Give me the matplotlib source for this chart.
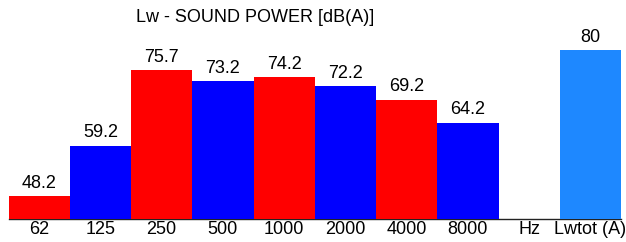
import matplotlib.pyplot as plt

# Bande d'ottava e livelli di potenza sonora
bands = ['62', '125', '250', '500', '1000', '2000', '4000', '8000']
band_values = [48.2, 59.2, 75.7, 73.2, 74.2, 72.2, 69.2, 64.2]
band_colors = ['#FF0000', '#0000FF'] * 4
total_label = 'Lwtot (A)'
total_value = 80
unit_label = 'Hz'

plt.rcParams['font.family'] = ['Liberation Sans', 'DejaVu Sans']

fig = plt.figure(figsize=(6.26, 2.42), dpi=100)
ax = fig.add_axes([8.5 / 626, 23.5 / 242, 612.5 / 626, 218.5 / 242])

labels = bands + [unit_label, total_label]
x = list(range(len(labels)))

ax.bar(x[:len(bands)], band_values, width=1.0, color=band_colors,
       zorder=2, linewidth=0)
ax.bar(x[-1], total_value, width=1.0, color='#1E88FF', zorder=2, linewidth=0)

for xi, v in zip(x[:len(bands)], band_values):
    ax.text(xi, v + 0.9, f'{v:g}', ha='center', va='bottom', fontsize=13)
ax.text(x[-1], total_value + 0.9, f'{total_value:g}', ha='center', va='bottom', fontsize=13)

ax.set_xlim(-0.5, len(labels) - 0.5)
ax.set_ylim(43.3, 90.9)
ax.set_xticks(x)
ax.set_xticklabels(labels, fontsize=13)
ax.tick_params(axis='x', length=0, pad=2)
ax.set_yticks([])
for s in ['top', 'right', 'left']:
    ax.spines[s].set_visible(False)
ax.spines['bottom'].set_color('#222222')
ax.spines['bottom'].set_linewidth(1)
ax.spines['bottom'].set_zorder(1)

fig.text(255 / 626, 1 - 18 / 242, 'Lw - SOUND POWER [dB(A)]', ha='center', va='center',
         fontsize=13)

fig.savefig('out.png', dpi=100)
